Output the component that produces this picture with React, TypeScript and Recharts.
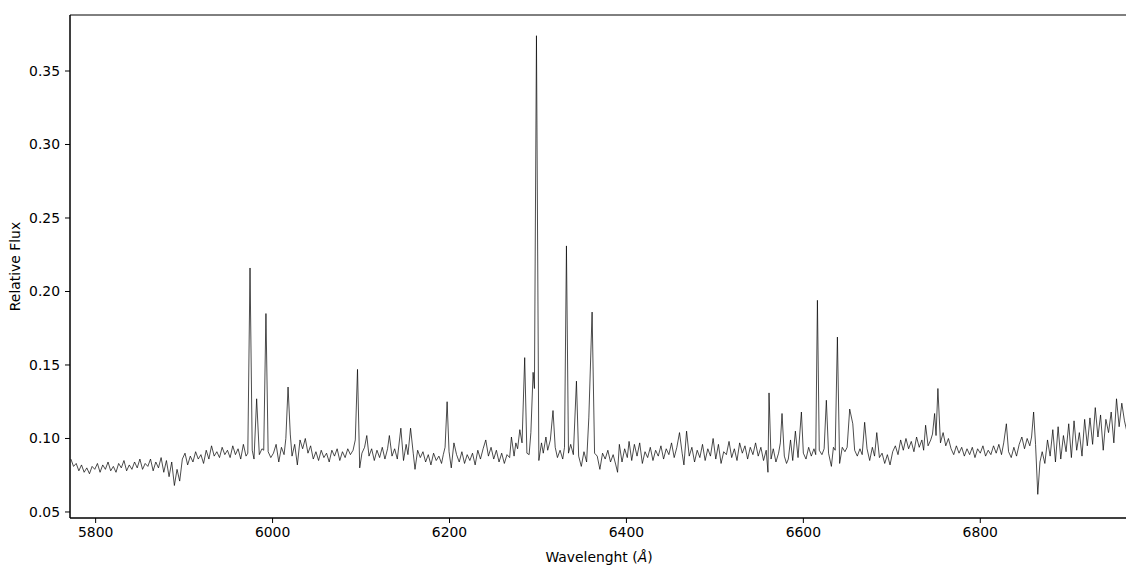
import React from "react";
import {
  Line,
  LineChart,
  ReferenceArea,
  XAxis,
  YAxis,
} from "recharts";

// Spectrum, split into four wavelength segments.
// Wavelength in Angstrom, flux relative.
const waveA = [
  5772, 5775, 5778, 5781, 5784, 5787, 5790, 5793, 5796, 5799,
  5802, 5805, 5808, 5811, 5814, 5817, 5820, 5823, 5826, 5829,
  5832, 5835, 5838, 5841, 5844, 5847, 5850, 5853, 5856, 5859,
  5862, 5865, 5868, 5871, 5874, 5877, 5880, 5883, 5886, 5889,
  5892, 5895, 5898, 5901, 5904, 5907, 5910, 5913, 5916, 5919,
  5922, 5925, 5928, 5931, 5934, 5937, 5940, 5943, 5946, 5949,
  5952, 5955, 5958, 5961, 5964, 5967, 5970, 5972, 5974.5, 5977,
  5979, 5982, 5985, 5988, 5990, 5992.5, 5995, 5998, 6001, 6004,
  6007, 6010, 6013, 6015, 6017.5, 6020, 6022, 6025, 6028, 6031,
  6034, 6037, 6040, 6043, 6046, 6049, 6052, 6055, 6058, 6061,
];
const fluxA = [
  0.086, 0.081, 0.083, 0.078, 0.082, 0.077, 0.080, 0.076, 0.081, 0.079,
  0.083, 0.077, 0.082, 0.079, 0.084, 0.078, 0.081, 0.077, 0.083, 0.080,
  0.085, 0.078, 0.082, 0.079, 0.084, 0.080, 0.086, 0.079, 0.083, 0.081,
  0.086, 0.078, 0.084, 0.080, 0.087, 0.077, 0.085, 0.074, 0.084, 0.068,
  0.079, 0.071, 0.086, 0.090, 0.082, 0.088, 0.084, 0.091, 0.086, 0.089,
  0.083, 0.092, 0.086, 0.095, 0.088, 0.091, 0.087, 0.094, 0.089, 0.092,
  0.087, 0.095, 0.089, 0.093, 0.086, 0.096, 0.088, 0.090, 0.216, 0.092,
  0.086, 0.127, 0.089, 0.093, 0.092, 0.185, 0.091, 0.087, 0.090, 0.096,
  0.084, 0.094, 0.089, 0.100, 0.135, 0.103, 0.088, 0.096, 0.082, 0.099,
  0.093, 0.100, 0.090, 0.095, 0.086, 0.091, 0.085, 0.092, 0.087, 0.090,
];

const waveB = [
  6064, 6067, 6070, 6073, 6076, 6079, 6082, 6085, 6088, 6091,
  6093.5, 6096, 6098.5, 6101, 6104, 6106.5, 6109, 6112, 6115, 6118,
  6121, 6124, 6127, 6130, 6132, 6135, 6138, 6141, 6145, 6148,
  6151, 6153, 6156, 6159, 6161, 6164, 6167, 6170, 6173, 6176,
  6179, 6182, 6185, 6188, 6191, 6193, 6195, 6197.3, 6199.5, 6202,
  6205, 6208, 6211, 6214, 6217, 6220, 6223, 6226, 6229, 6232,
  6235, 6238, 6241, 6244, 6247, 6250, 6253, 6256, 6259, 6262,
  6265, 6268, 6270, 6273, 6275, 6277, 6279.5, 6282, 6285, 6287.5,
  6290, 6292, 6294.5, 6296, 6298.3, 6301, 6304, 6306, 6309, 6311,
  6314, 6317, 6319.5, 6322, 6325, 6328, 6330, 6332.2, 6334.5, 6337,
];
const fluxB = [
  0.084, 0.092, 0.088, 0.093, 0.085, 0.091, 0.087, 0.093, 0.089, 0.092,
  0.099, 0.147, 0.080, 0.090, 0.094, 0.102, 0.088, 0.093, 0.085, 0.092,
  0.087, 0.094, 0.086, 0.093, 0.102, 0.088, 0.093, 0.086, 0.107, 0.085,
  0.096, 0.089, 0.107, 0.090, 0.079, 0.092, 0.087, 0.091, 0.084, 0.089,
  0.082, 0.090, 0.085, 0.088, 0.083, 0.089, 0.094, 0.125, 0.091, 0.080,
  0.097, 0.089, 0.084, 0.091, 0.083, 0.089, 0.085, 0.090, 0.082, 0.092,
  0.086, 0.093, 0.099, 0.088, 0.094, 0.086, 0.092, 0.084, 0.090, 0.083,
  0.089, 0.087, 0.101, 0.088, 0.097, 0.093, 0.106, 0.097, 0.155, 0.090,
  0.089, 0.104, 0.145, 0.134, 0.374, 0.085, 0.097, 0.090, 0.101, 0.092,
  0.099, 0.119, 0.094, 0.087, 0.092, 0.086, 0.094, 0.231, 0.090, 0.096,
];

const waveC = [
  6340, 6343.5, 6346, 6349, 6352, 6355, 6357.5, 6361.2, 6364, 6367,
  6370, 6373, 6376, 6379, 6382, 6385, 6388, 6390, 6392, 6395,
  6398, 6401, 6403, 6406, 6409, 6412, 6415, 6418, 6421, 6424,
  6427, 6430, 6433, 6436, 6439, 6442, 6445, 6448, 6451, 6454,
  6457, 6460, 6463, 6465, 6468, 6471, 6474, 6477, 6480, 6483,
  6486, 6489, 6492, 6495, 6498, 6501, 6504, 6507, 6510, 6513,
  6516, 6519, 6522, 6525, 6528, 6531, 6534, 6537, 6540, 6543,
  6546, 6549, 6552, 6555, 6558, 6560, 6561.2, 6563.5, 6566, 6569,
  6572, 6574, 6575.9, 6578.5, 6581, 6583, 6585.5, 6588, 6591, 6594,
  6597.8, 6600, 6603, 6606, 6609, 6612, 6614, 6615.9, 6618, 6621,
  6623.5, 6626, 6628.5, 6631.7, 6634, 6636, 6638.5, 6641, 6644, 6647,
];
const fluxC = [
  0.089, 0.139, 0.088, 0.081, 0.091, 0.084, 0.114, 0.186, 0.090, 0.088,
  0.079, 0.090, 0.086, 0.092, 0.084, 0.089, 0.082, 0.077, 0.096, 0.084,
  0.093, 0.087, 0.098, 0.085, 0.096, 0.088, 0.097, 0.083, 0.091, 0.087,
  0.094, 0.085, 0.092, 0.088, 0.095, 0.086, 0.093, 0.089, 0.097, 0.087,
  0.094, 0.104, 0.090, 0.082, 0.105, 0.088, 0.094, 0.084, 0.092, 0.087,
  0.096, 0.085, 0.093, 0.088, 0.100, 0.086, 0.096, 0.083, 0.091, 0.089,
  0.098, 0.087, 0.093, 0.085, 0.097, 0.090, 0.095, 0.086, 0.094, 0.089,
  0.097, 0.088, 0.094, 0.085, 0.092, 0.077, 0.131, 0.086, 0.093, 0.084,
  0.090, 0.097, 0.117, 0.088, 0.083, 0.086, 0.099, 0.085, 0.105, 0.087,
  0.118, 0.090, 0.086, 0.094, 0.088, 0.093, 0.089, 0.194, 0.092, 0.089,
  0.093, 0.126, 0.090, 0.081, 0.094, 0.092, 0.169, 0.083, 0.094, 0.091,
];

const waveD = [
  6649.5, 6652.4, 6655.9, 6658, 6661, 6664, 6666.5, 6669.3, 6672, 6675,
  6678, 6680.5, 6683, 6686, 6689, 6692, 6695, 6698, 6701, 6704,
  6707, 6710, 6713, 6716, 6719, 6722, 6725, 6728, 6731, 6734,
  6736, 6738.2, 6741, 6744, 6746, 6748.4, 6750, 6752.1, 6755, 6758,
  6761, 6764, 6767, 6770, 6773, 6776, 6779, 6782, 6785, 6788,
  6791, 6794, 6797, 6800, 6803, 6806, 6809, 6812, 6815, 6818,
  6821, 6824, 6826.5, 6829.5, 6832, 6835, 6838, 6841, 6844, 6847,
  6850, 6853, 6856, 6858, 6860.3, 6862.5, 6865, 6867.5, 6870, 6873,
  6876, 6879, 6882, 6885, 6888, 6891, 6894, 6897, 6900, 6903,
  6906, 6909, 6912, 6915, 6918, 6921, 6924, 6927, 6930, 6933,
  6936, 6939, 6942, 6945, 6948, 6951, 6954, 6957, 6960, 6963,
  6966,
];
const fluxD = [
  0.094, 0.120, 0.110, 0.092, 0.088, 0.093, 0.089, 0.111, 0.093, 0.085,
  0.094, 0.088, 0.104, 0.087, 0.090, 0.083, 0.089, 0.082, 0.091, 0.095,
  0.089, 0.099, 0.092, 0.100, 0.093, 0.098, 0.091, 0.101, 0.094, 0.099,
  0.092, 0.109, 0.095, 0.099, 0.103, 0.117, 0.102, 0.134, 0.097, 0.104,
  0.095, 0.100, 0.093, 0.089, 0.095, 0.090, 0.094, 0.088, 0.093, 0.089,
  0.094, 0.087, 0.093, 0.090, 0.095, 0.088, 0.092, 0.089, 0.095, 0.090,
  0.096, 0.089, 0.097, 0.110, 0.091, 0.087, 0.094, 0.088, 0.096, 0.101,
  0.093, 0.100, 0.095, 0.101, 0.118, 0.096, 0.062, 0.084, 0.091, 0.083,
  0.099, 0.088, 0.106, 0.084, 0.108, 0.086, 0.102, 0.091, 0.110, 0.087,
  0.112, 0.092, 0.104, 0.088, 0.113, 0.095, 0.114, 0.096, 0.121, 0.101,
  0.116, 0.092, 0.113, 0.104, 0.118, 0.097, 0.127, 0.108, 0.124, 0.112,
  0.104,
];

const xTicks = [5800, 6000, 6200, 6400, 6600, 6800];
const yTicks = [0.05, 0.1, 0.15, 0.2, 0.25, 0.3, 0.35];

const X_DOMAIN: [number, number] = [5771, 6967];
const Y_DOMAIN: [number, number] = [0.0459, 0.3881];

const FONT = "'DejaVu Sans', sans-serif";
const FONT_SIZE = 13.9;

const waves = [...waveA, ...waveB, ...waveC, ...waveD];
const fluxes = [...fluxA, ...fluxB, ...fluxC, ...fluxD];
const data = waves.map((w, i) => ({ wavelength: w, flux: fluxes[i] }));

const tickStyle = { fill: "#000", fontSize: FONT_SIZE, fontFamily: FONT };

function XLabel(props: any) {
  const vb = props.viewBox || {};
  return (
    <text
      x={vb.x + vb.width / 2}
      y={vb.y + 44}
      textAnchor="middle"
      fill="#000"
      fontSize={FONT_SIZE}
      fontFamily={FONT}
    >
      Wavelenght (<tspan fontStyle="italic">Å</tspan>)
    </text>
  );
}

function YLabel(props: any) {
  const vb = props.viewBox || {};
  const cx = 7;
  const cy = vb.y + vb.height / 2;
  return (
    <text
      x={cx}
      y={cy}
      transform={`rotate(-90, ${cx}, ${cy})`}
      textAnchor="middle"
      dominantBaseline="central"
      fill="#000"
      fontSize={FONT_SIZE}
      fontFamily={FONT}
    >
      Relative Flux
    </text>
  );
}

export default function App() {
  return (
    <LineChart
      width={1126}
      height={567}
      data={data}
      margin={{ top: 7, right: 6, bottom: 0, left: 0 }}
    >
      <XAxis
        dataKey="wavelength"
        type="number"
        domain={X_DOMAIN}
        ticks={xTicks}
        allowDataOverflow
        height={57}
        tickSize={5}
        tickMargin={4}
        tick={tickStyle}
        stroke="#000"
        tickLine={{ stroke: "#000" }}
        label={(p: any) => <XLabel {...p} />}
      />
      <YAxis
        type="number"
        domain={Y_DOMAIN}
        ticks={yTicks}
        allowDataOverflow
        width={62}
        tickSize={5}
        tickMargin={5}
        tick={tickStyle}
        tickFormatter={(v: number) => v.toFixed(2)}
        stroke="#000"
        tickLine={{ stroke: "#000" }}
        label={(p: any) => <YLabel {...p} />}
      />
      <ReferenceArea
        x1={X_DOMAIN[0]}
        x2={X_DOMAIN[1]}
        y1={Y_DOMAIN[0]}
        y2={Y_DOMAIN[1]}
        fill="none"
        fillOpacity={0}
        stroke="#000"
        strokeWidth={1}
      />
      <Line
        type="linear"
        dataKey="flux"
        stroke="#000"
        strokeWidth={0.7}
        dot={false}
        activeDot={false}
        isAnimationActive={false}
      />
    </LineChart>
  );
}
